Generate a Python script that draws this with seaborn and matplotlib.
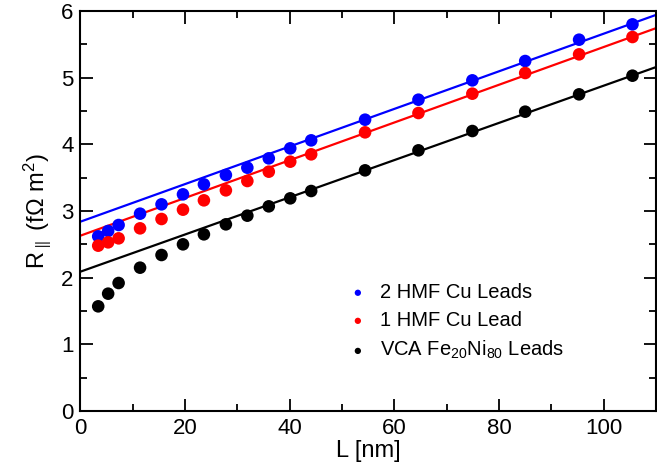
import numpy as np
import pandas as pd
import matplotlib
matplotlib.use("Agg")
import matplotlib.pyplot as plt
import seaborn as sns
from matplotlib.ticker import MultipleLocator

# ---- data ----
L_nm = [3.4, 5.3, 7.3, 11.4, 15.5, 19.6, 23.6, 27.8, 31.9, 36.0, 40.1, 44.1,
        54.4, 64.6, 74.9, 85.0, 95.3, 105.5]
R_2hmf = [2.62, 2.70, 2.79, 2.96, 3.10, 3.25, 3.40, 3.54, 3.65, 3.79, 3.94, 4.06,
          4.37, 4.67, 4.96, 5.25, 5.57, 5.80]
R_1hmf = [2.48, 2.53, 2.59, 2.74, 2.88, 3.02, 3.16, 3.31, 3.45, 3.59, 3.74, 3.85,
          4.18, 4.47, 4.76, 5.07, 5.35, 5.61]
R_vca = [1.57, 1.76, 1.92, 2.15, 2.34, 2.50, 2.65, 2.80, 2.93, 3.07, 3.19, 3.30,
         3.61, 3.91, 4.20, 4.49, 4.75, 5.03]
# linear fits (intercept, slope)
fit_intercepts = [2.84, 2.63, 2.09]
fit_slopes = [0.0282, 0.0283, 0.0279]
series_labels = ["2 HMF Cu Leads", "1 HMF Cu Lead", r"VCA Fe$_{20}$Ni$_{80}$ Leads"]
series_colors = ["#0000ff", "#ff0000", "#000000"]

sns.set_style("ticks")
plt.rcParams["font.family"] = ["Liberation Sans", "DejaVu Sans"]
plt.rcParams["mathtext.fontset"] = "custom"
plt.rcParams["mathtext.rm"] = "Liberation Sans"
plt.rcParams["mathtext.it"] = "Liberation Sans:italic"
plt.rcParams["mathtext.bf"] = "Liberation Sans:bold"
for k in ["text.color", "axes.labelcolor", "xtick.color", "ytick.color",
          "axes.edgecolor"]:
    plt.rcParams[k] = "black"

fig = plt.figure(figsize=(6.57, 4.71), dpi=100)
ax = fig.add_axes([0.1224, 0.1274, 0.8761, 0.8492])

xlim = (0, 110)
fit_x = np.array(xlim, dtype=float)
series_values = [R_2hmf, R_1hmf, R_vca]

for vals, b, m, lab, col in zip(series_values, fit_intercepts, fit_slopes,
                                series_labels, series_colors):
    df = pd.DataFrame({"L": L_nm, "R": vals})
    sns.lineplot(x=fit_x, y=b + m * fit_x, color=col, linewidth=1.6, ax=ax,
                 zorder=2)
    sns.scatterplot(data=df, x="L", y="R", color=col, s=82, edgecolor="none",
                    ax=ax, label=lab, zorder=3)

ax.set_xlim(*xlim)
ax.set_ylim(0, 6)
ax.xaxis.set_major_locator(MultipleLocator(20))
ax.xaxis.set_minor_locator(MultipleLocator(10))
ax.yaxis.set_major_locator(MultipleLocator(1))
ax.yaxis.set_minor_locator(MultipleLocator(0.5))
ax.tick_params(which="both", direction="in", top=True, right=True,
               width=1.3, labelsize=16, pad=5, colors="black")
ax.tick_params(which="major", length=9)
ax.tick_params(which="minor", length=5)
for sp in ax.spines.values():
    sp.set_linewidth(1.5)
    sp.set_visible(True)
    sp.set_color("black")

ax.set_xlabel("L [nm]", fontsize=17, labelpad=1)
ax.set_ylabel(r"R$_{\parallel}$ (f$\Omega$ m$^2$)", fontsize=17, labelpad=6)

leg = ax.legend(loc="upper left", bbox_to_anchor=(0.447, 0.34), frameon=False,
                fontsize=14.5, markerscale=0.5, handletextpad=0.5,
                labelspacing=0.45, borderaxespad=0, handlelength=1.2)

fig.savefig("out.png", dpi=100)
